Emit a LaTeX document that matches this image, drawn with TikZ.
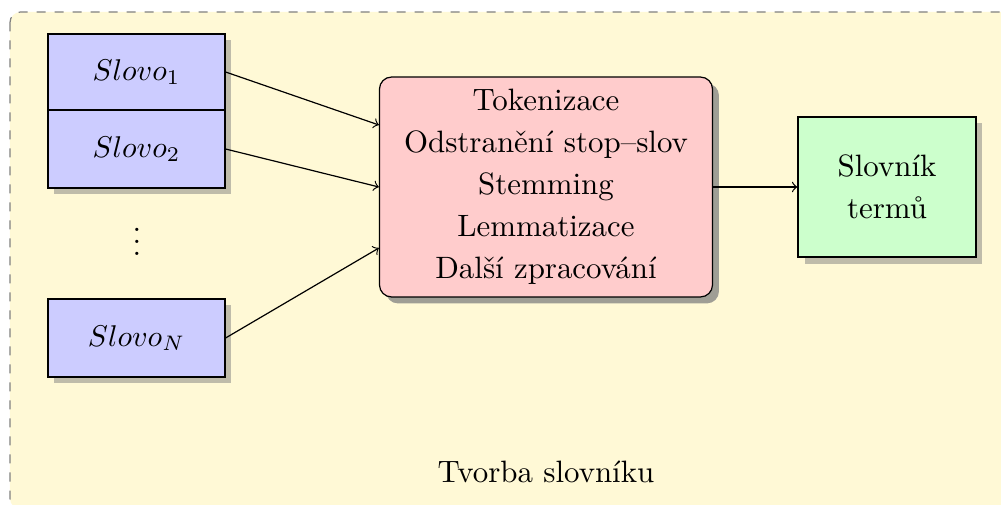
\documentclass[tikz,border=0pt]{standalone}
\usetikzlibrary{shadows}
\definecolor{bgyellow}{RGB}{255,249,214}
\begin{document}
\begin{tikzpicture}[x=0.333333pt,y=-0.333333pt,
  every node/.style={font=\fontsize{10.3pt}{14pt}\selectfont},
  wordbox/.style={draw, fill=blue!20, minimum width=59pt, inner sep=0pt, drop shadow},
  procbox/.style={draw, fill=red!20, rounded corners=4pt, minimum width=111pt, minimum height=73.3pt,
    align=center, drop shadow={opacity=0.75}},
  dictbox/.style={draw, fill=green!20, minimum width=59.3pt, minimum height=46.7pt,
    align=center, drop shadow},
  arr/.style={->},
  bgbox/.style={draw=gray, dashed, fill=bgyellow, rounded corners=3.5pt}]
\clip (0,0) rectangle (1001,505);
\useasboundingbox (0,0) rectangle (1001,505);
\path[bgbox] (10,12) rectangle (1082,509);
\node[wordbox, minimum height=25.33pt] (s1) at (136.5,72) {$Slovo_1$};
\node[wordbox, minimum height=26pt] (s2) at (136.5,149) {$Slovo_2$};
\node (dots) at (137,233) {$\vdots$};
\node[wordbox, minimum height=26pt] (sN) at (136.5,338) {$Slovo_N$};
\node[procbox] (red) at (546,187) {Tokenizace\\Odstranění stop–slov\\Stemming\\Lemmatizace\\Další zpracování};
\node[dictbox] (green) at (887,187) {Slovník\\termů};
\node (label) at (546,472) {Tvorba slovníku};
\draw[arr] (s1.east) -- ([yshift=20.67pt]red.west);
\draw[arr] (s2.east) -- (red.west);
\draw[arr] (sN.east) -- ([yshift=-20.33pt]red.west);
\draw[arr] (red.east) -- (green.west);
\end{tikzpicture}
\end{document}
